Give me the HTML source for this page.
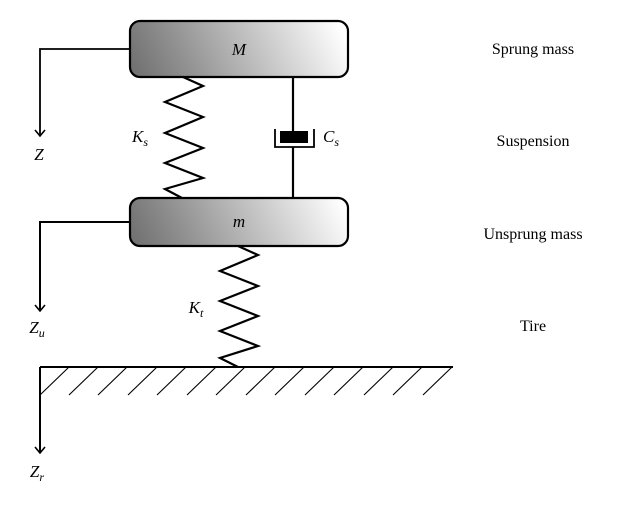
<!DOCTYPE html>
<html><head><style>body{margin:0;background:#fff}</style></head><body>
<svg width="631" height="510" viewBox="0 0 631 510" xmlns="http://www.w3.org/2000/svg" font-family="Liberation Serif, serif">
<defs>
<linearGradient id="g1" x1="140" y1="95" x2="330" y2="5" gradientUnits="userSpaceOnUse">
<stop offset="0" stop-color="#6e6e6e"/><stop offset="0.25" stop-color="#909090"/><stop offset="1" stop-color="#fff"/>
</linearGradient>
<linearGradient id="g2" x1="140" y1="266" x2="330" y2="176" gradientUnits="userSpaceOnUse">
<stop offset="0" stop-color="#6e6e6e"/><stop offset="0.25" stop-color="#909090"/><stop offset="1" stop-color="#fff"/>
</linearGradient>
</defs>
<g stroke="#000" stroke-width="2.2" fill="none">
<rect x="130" y="21" width="218" height="56" rx="10" fill="url(#g1)"/>
<rect x="130" y="198" width="218" height="48" rx="10" fill="url(#g2)"/>
<polyline points="183,77 203,86 165,102 203,117 165,133 203,148 165,163 203,178 165,189 182,198"/>
<polyline points="238,246 258,255 220,271 258,286 220,301 258,316 220,331 258,346 220,358 238,367"/>
<line x1="293" y1="77" x2="293" y2="131"/>
<line x1="293" y1="147" x2="293" y2="198"/>
<polyline points="275,129 275,147 314,147 314,129" stroke-width="1.8"/>
<rect x="280" y="131" width="28" height="12" fill="#000" stroke="none"/>
<polyline points="130,49 40,49 40,136" stroke-width="1.8"/>
<polyline points="35,130 40,136 45,130" stroke-width="1.6"/>
<polyline points="130,222 40,222 40,311" stroke-width="2"/>
<polyline points="35,305 40,311 45,305" stroke-width="1.6"/>
<line x1="40" y1="367" x2="453" y2="367" stroke-width="2"/>
<line x1="40" y1="367" x2="40" y2="453" stroke-width="2"/>
<polyline points="35,447 40,453 45,447" stroke-width="1.6"/>
</g>
<g stroke="#000" stroke-width="1.1">
<line x1="40" y1="395" x2="69" y2="367"/><line x1="69" y1="395" x2="98" y2="367"/>
<line x1="98" y1="395" x2="127" y2="367"/><line x1="128" y1="395" x2="157" y2="367"/>
<line x1="157" y1="395" x2="186" y2="367"/><line x1="187" y1="395" x2="216" y2="367"/>
<line x1="216" y1="395" x2="245" y2="367"/><line x1="246" y1="395" x2="275" y2="367"/>
<line x1="275" y1="395" x2="304" y2="367"/><line x1="305" y1="395" x2="334" y2="367"/>
<line x1="334" y1="395" x2="363" y2="367"/><line x1="364" y1="395" x2="393" y2="367"/>
<line x1="393" y1="395" x2="422" y2="367"/><line x1="423" y1="395" x2="452" y2="367"/>
</g>
<g font-size="17" font-style="italic" text-anchor="middle">
<text x="239" y="55">M</text>
<text x="239" y="227">m</text>
<text x="140" y="142">K<tspan font-size="12" dy="4">s</tspan></text>
<text x="331" y="142">C<tspan font-size="12" dy="4">s</tspan></text>
<text x="196" y="313">K<tspan font-size="12" dy="4">t</tspan></text>
<text x="39" y="160">Z</text>
<text x="37" y="333">Z<tspan font-size="12" dy="4">u</tspan></text>
<text x="37" y="477">Z<tspan font-size="12" dy="4">r</tspan></text>
</g>
<g font-size="16" text-anchor="middle">
<text x="533" y="54">Sprung mass</text>
<text x="533" y="146">Suspension</text>
<text x="533" y="239">Unsprung mass</text>
<text x="533" y="331">Tire</text>
</g>
</svg>
</body></html>
